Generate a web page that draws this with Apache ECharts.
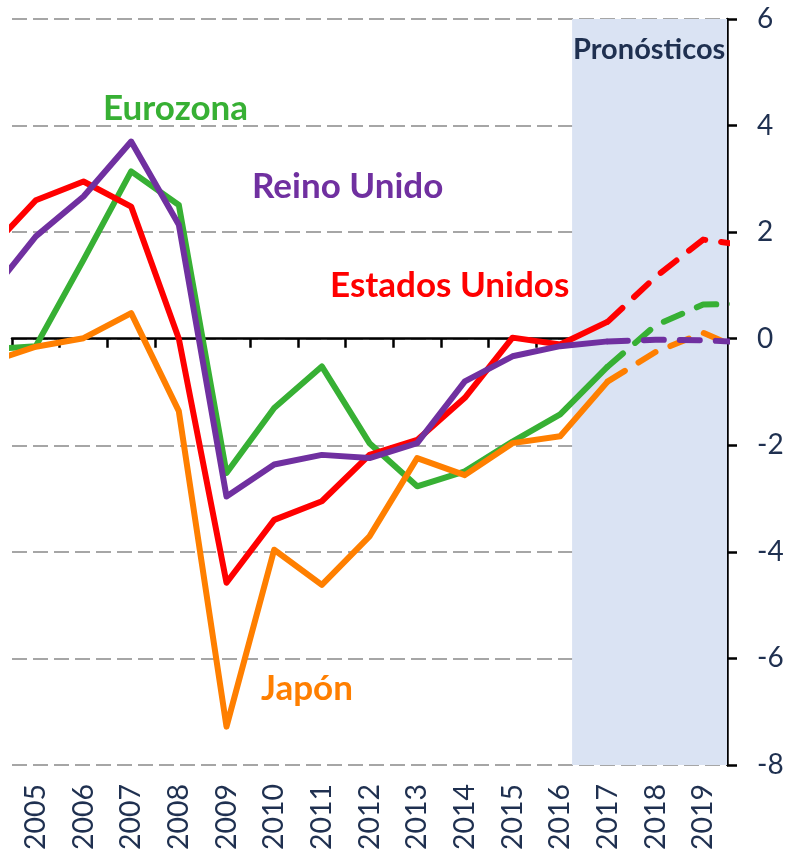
<!DOCTYPE html>
<html>
<head>
<meta charset="utf-8">
<script src="https://cdn.jsdelivr.net/npm/echarts@6/dist/echarts.min.js"></script>
<style>
html,body{margin:0;padding:0;background:#fff;}
#chart{width:786px;height:851px;}
</style>
</head>
<body>
<div id="chart"></div>
<script>
// ---- data ----
const years = [2004,2005,2006,2007,2008,2009,2010,2011,2012,2013,2014,2015,2016,2017,2018,2019,2020];
const eurozona      = [-0.20,-0.14, 1.48, 3.14, 2.51,-2.52,-1.30,-0.52,-1.96,-2.77,-2.49,-1.93,-1.42,-0.52, 0.25, 0.64, 0.66];
const estadosUnidos = [ 1.64, 2.60, 2.95, 2.48, 0.00,-4.58,-3.40,-3.05,-2.18,-1.90,-1.11, 0.02,-0.11, 0.32, 1.16, 1.86, 1.74];
const reinoUnido    = [ 0.80, 1.92, 2.67, 3.70, 2.14,-2.96,-2.36,-2.18,-2.24,-1.96,-0.80,-0.33,-0.14,-0.05,-0.02,-0.03,-0.07];
const japon         = [-0.45,-0.15, 0.01, 0.48,-1.36,-7.28,-3.96,-4.62,-3.71,-2.24,-2.56,-1.96,-1.83,-0.80,-0.25, 0.11,-0.27];
const yearLabels = [2005,2006,2007,2008,2009,2010,2011,2012,2013,2014,2015,2016,2017,2018,2019];
const yTicks = [-8,-6,-4,-2,0,2,4,6];
const forecastFrom = 2017;       // first forecast year (dashed from here)
const forecastShadeStart = 2016.25;
const xMin = 2004.5, xMax = 2019.5;
const names = {eu:'Eurozona', us:'Estados Unidos', uk:'Reino Unido', jp:'Japón'};

// ---- helpers ----
function pairs(vals, from, to){
  const out = [];
  years.forEach((y,i)=>{ if(y>=from && y<=to) out.push([y, vals[i]]); });
  return out;
}
const colors = {eu:'#37B034', us:'#FF0000', uk:'#7030A0', jp:'#FF7F00'};
const LW = 6;
function mk(key, vals, z){
  return [
    {type:'line', name:names[key], xAxisIndex:0, data:pairs(vals, years[0], forecastFrom),
     showSymbol:false, z:z, clip:true, animation:false,
     lineStyle:{color:colors[key], width:LW, join:'round', cap:'butt'}},
    {type:'line', name:names[key]+' (pronóstico)', xAxisIndex:0, data:pairs(vals, forecastFrom, years[years.length-1]),
     showSymbol:false, z:z, clip:true, animation:false,
     lineStyle:{color:colors[key], width:LW, type:[20,16], cap:'round', join:'round'}}
  ];
}
const boundaries = [];
for(let v=xMin; v<xMax; v+=1) boundaries.push(v);

const navy = '#1F3050';
const chart = echarts.init(document.getElementById('chart'), null, {renderer:'canvas'});
chart.setOption({
  animation:false,
  backgroundColor:'#ffffff',
  grid:{left:12, right:59, top:19, bottom:86, containLabel:false, outerBoundsMode:'none'},
  xAxis:[
    {type:'value', min:xMin, max:xMax, position:'bottom',
     axisLine:{show:true, onZero:true, lineStyle:{color:'#000', width:2.5}},
     axisTick:{show:true, customValues:boundaries, length:9, inside:false, lineStyle:{color:'#000', width:2.5}},
     axisLabel:{show:false}, splitLine:{show:false}},
    {type:'value', min:xMin, max:xMax, position:'bottom',
     axisLine:{show:false, onZero:false}, axisTick:{show:false}, splitLine:{show:false},
     axisLabel:{show:true, customValues:yearLabels, rotate:90, margin:19,
       fontFamily:'Lato', fontSize:28.5, color:navy, formatter:(v)=>String(Math.round(v))}}
  ],
  yAxis:{type:'value', position:'right', min:-8, max:6, interval:2,
    axisLine:{show:true, onZero:false, lineStyle:{color:'#000', width:2.5}},
    axisTick:{show:true, length:10, inside:false, lineStyle:{color:'#000', width:2.5}},
    axisLabel:{show:true, margin:30, align:'left', fontFamily:'Lato', fontSize:28, color:navy,
      formatter:(v)=> yTicks.includes(v) ? String(v) : ''},
    splitLine:{show:true, lineStyle:{color:'#A6A6A6', width:2, type:[15,6]}}},
  series:[
    {type:'line', name:'shade', data:[], z:-1, silent:true, animation:false,
     markArea:{silent:true, itemStyle:{color:'#DAE3F3'},
       data:[[{xAxis:forecastShadeStart},{xAxis:xMax}]]}},
    ...mk('eu', eurozona, 2),
    ...mk('us', estadosUnidos, 3),
    ...mk('jp', japon, 4),
    ...mk('uk', reinoUnido, 5)
  ],
  graphic:[
    {type:'text', left:573, top:35, z:100, style:{text:'Pronósticos', fill:navy, font:'bold 29px Lato'}},
    {type:'text', left:103, top:91, z:100, style:{text:names.eu, fill:colors.eu, font:'bold 35px Lato'}},
    {type:'text', left:252, top:169, z:100, style:{text:names.uk, fill:colors.uk, font:'bold 35px Lato'}},
    {type:'text', left:330, top:268, z:100, style:{text:names.us, fill:colors.us, font:'bold 35px Lato'}},
    {type:'text', left:261, top:671, z:100, style:{text:names.jp, fill:colors.jp, font:'bold 35px Lato'}}
  ]
});
</script>
</body>
</html>
